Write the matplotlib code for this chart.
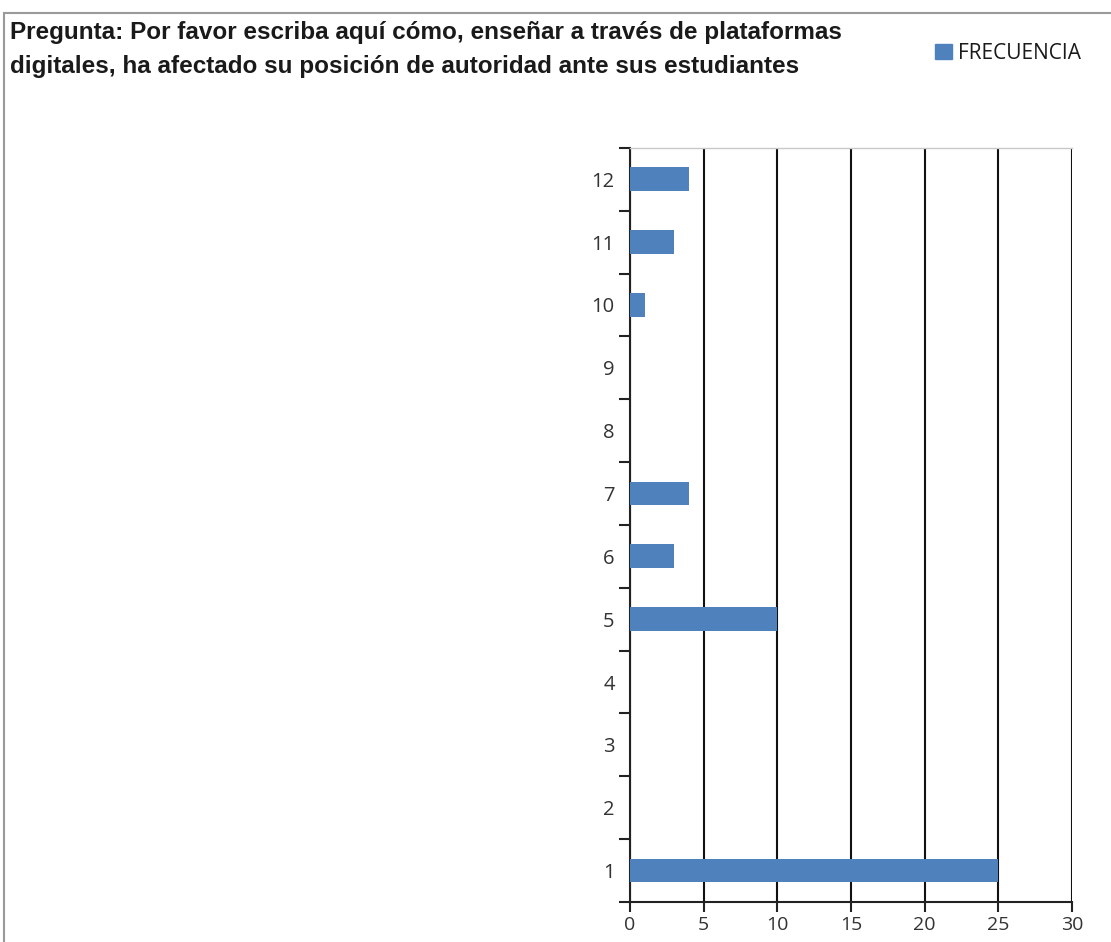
import matplotlib.pyplot as plt
import matplotlib.patches as mpatches
import numpy as np

# Datos
categorias = ["1", "2", "3", "4", "5", "6", "7", "8", "9", "10", "11", "12"]
frecuencia = [25, 0, 0, 0, 10, 3, 4, 0, 0, 1, 3, 4]
x_ticks = [0, 5, 10, 15, 20, 25, 30]

titulo = ("Pregunta: Por favor escriba aquí cómo, enseñar a través de plataformas\n"
          "digitales, ha afectado su posición de autoridad ante sus estudiantes")

AZUL = "#4f81bd"
FUENTE_EJES = ["Open Sans", "DejaVu Sans"]

plt.rcParams["font.family"] = ["Liberation Sans", "DejaVu Sans"]

fig = plt.figure(figsize=(11.11, 9.42), dpi=100)
ax = fig.add_axes([0.567, 0.0425, 0.398, 0.8005])

y = np.arange(len(categorias))
ax.barh(y, frecuencia, height=0.38, color=AZUL, zorder=3)

ax.set_xlim(0, 30)
ax.set_ylim(-0.5, len(categorias) - 0.5)
ax.set_xticks(x_ticks)
ax.set_xticklabels([str(v) for v in x_ticks], family=FUENTE_EJES)
ax.set_yticks(y)
ax.set_yticklabels(categorias, family=FUENTE_EJES)
ax.set_yticks(np.arange(-0.5, len(categorias), 1), minor=True)

ax.tick_params(axis="y", which="major", length=0, pad=11, labelsize=14.5, labelcolor="#333333")
ax.tick_params(axis="y", which="minor", length=8, width=1.5, direction="out", color="#222222")
ax.tick_params(axis="x", which="major", length=7, width=1.5, direction="out", pad=3,
               labelsize=14, labelcolor="#333333", color="#222222")

ax.grid(True, axis="x", color="#111111", linewidth=1.5, zorder=1)
ax.grid(False, axis="y")
ax.set_axisbelow(True)

ax.spines["left"].set_color("#222222")
ax.spines["left"].set_linewidth(1.5)
ax.spines["bottom"].set_color("#222222")
ax.spines["bottom"].set_linewidth(1.5)
ax.spines["top"].set_color("#c8c8c8")
ax.spines["top"].set_linewidth(1.0)
ax.spines["right"].set_visible(False)

# Título
fig.text(10 / 1111, 1 - 21 / 942, titulo, ha="left", va="top", fontsize=17.5,
         fontweight="bold", color="#1a1a1a", linespacing=1.6)

# Leyenda
fig.legend(handles=[mpatches.Patch(color=AZUL, label="FRECUENCIA")],
           loc="upper right", bbox_to_anchor=(1100 / 1111, 1 - 24 / 942),
           frameon=False, prop={"family": FUENTE_EJES, "size": 15},
           handlelength=0.8, handleheight=0.8, handletextpad=0.3,
           labelcolor="#1a1a1a")

# Borde del gráfico
fig.patches.append(mpatches.Rectangle((4 / 1111, -0.1), 1.2, 1 - 13 / 942 + 0.1,
                                      transform=fig.transFigure, fill=False,
                                      edgecolor="#9a9a9a", linewidth=1.5, zorder=0))

fig.savefig("out.png", dpi=100)
